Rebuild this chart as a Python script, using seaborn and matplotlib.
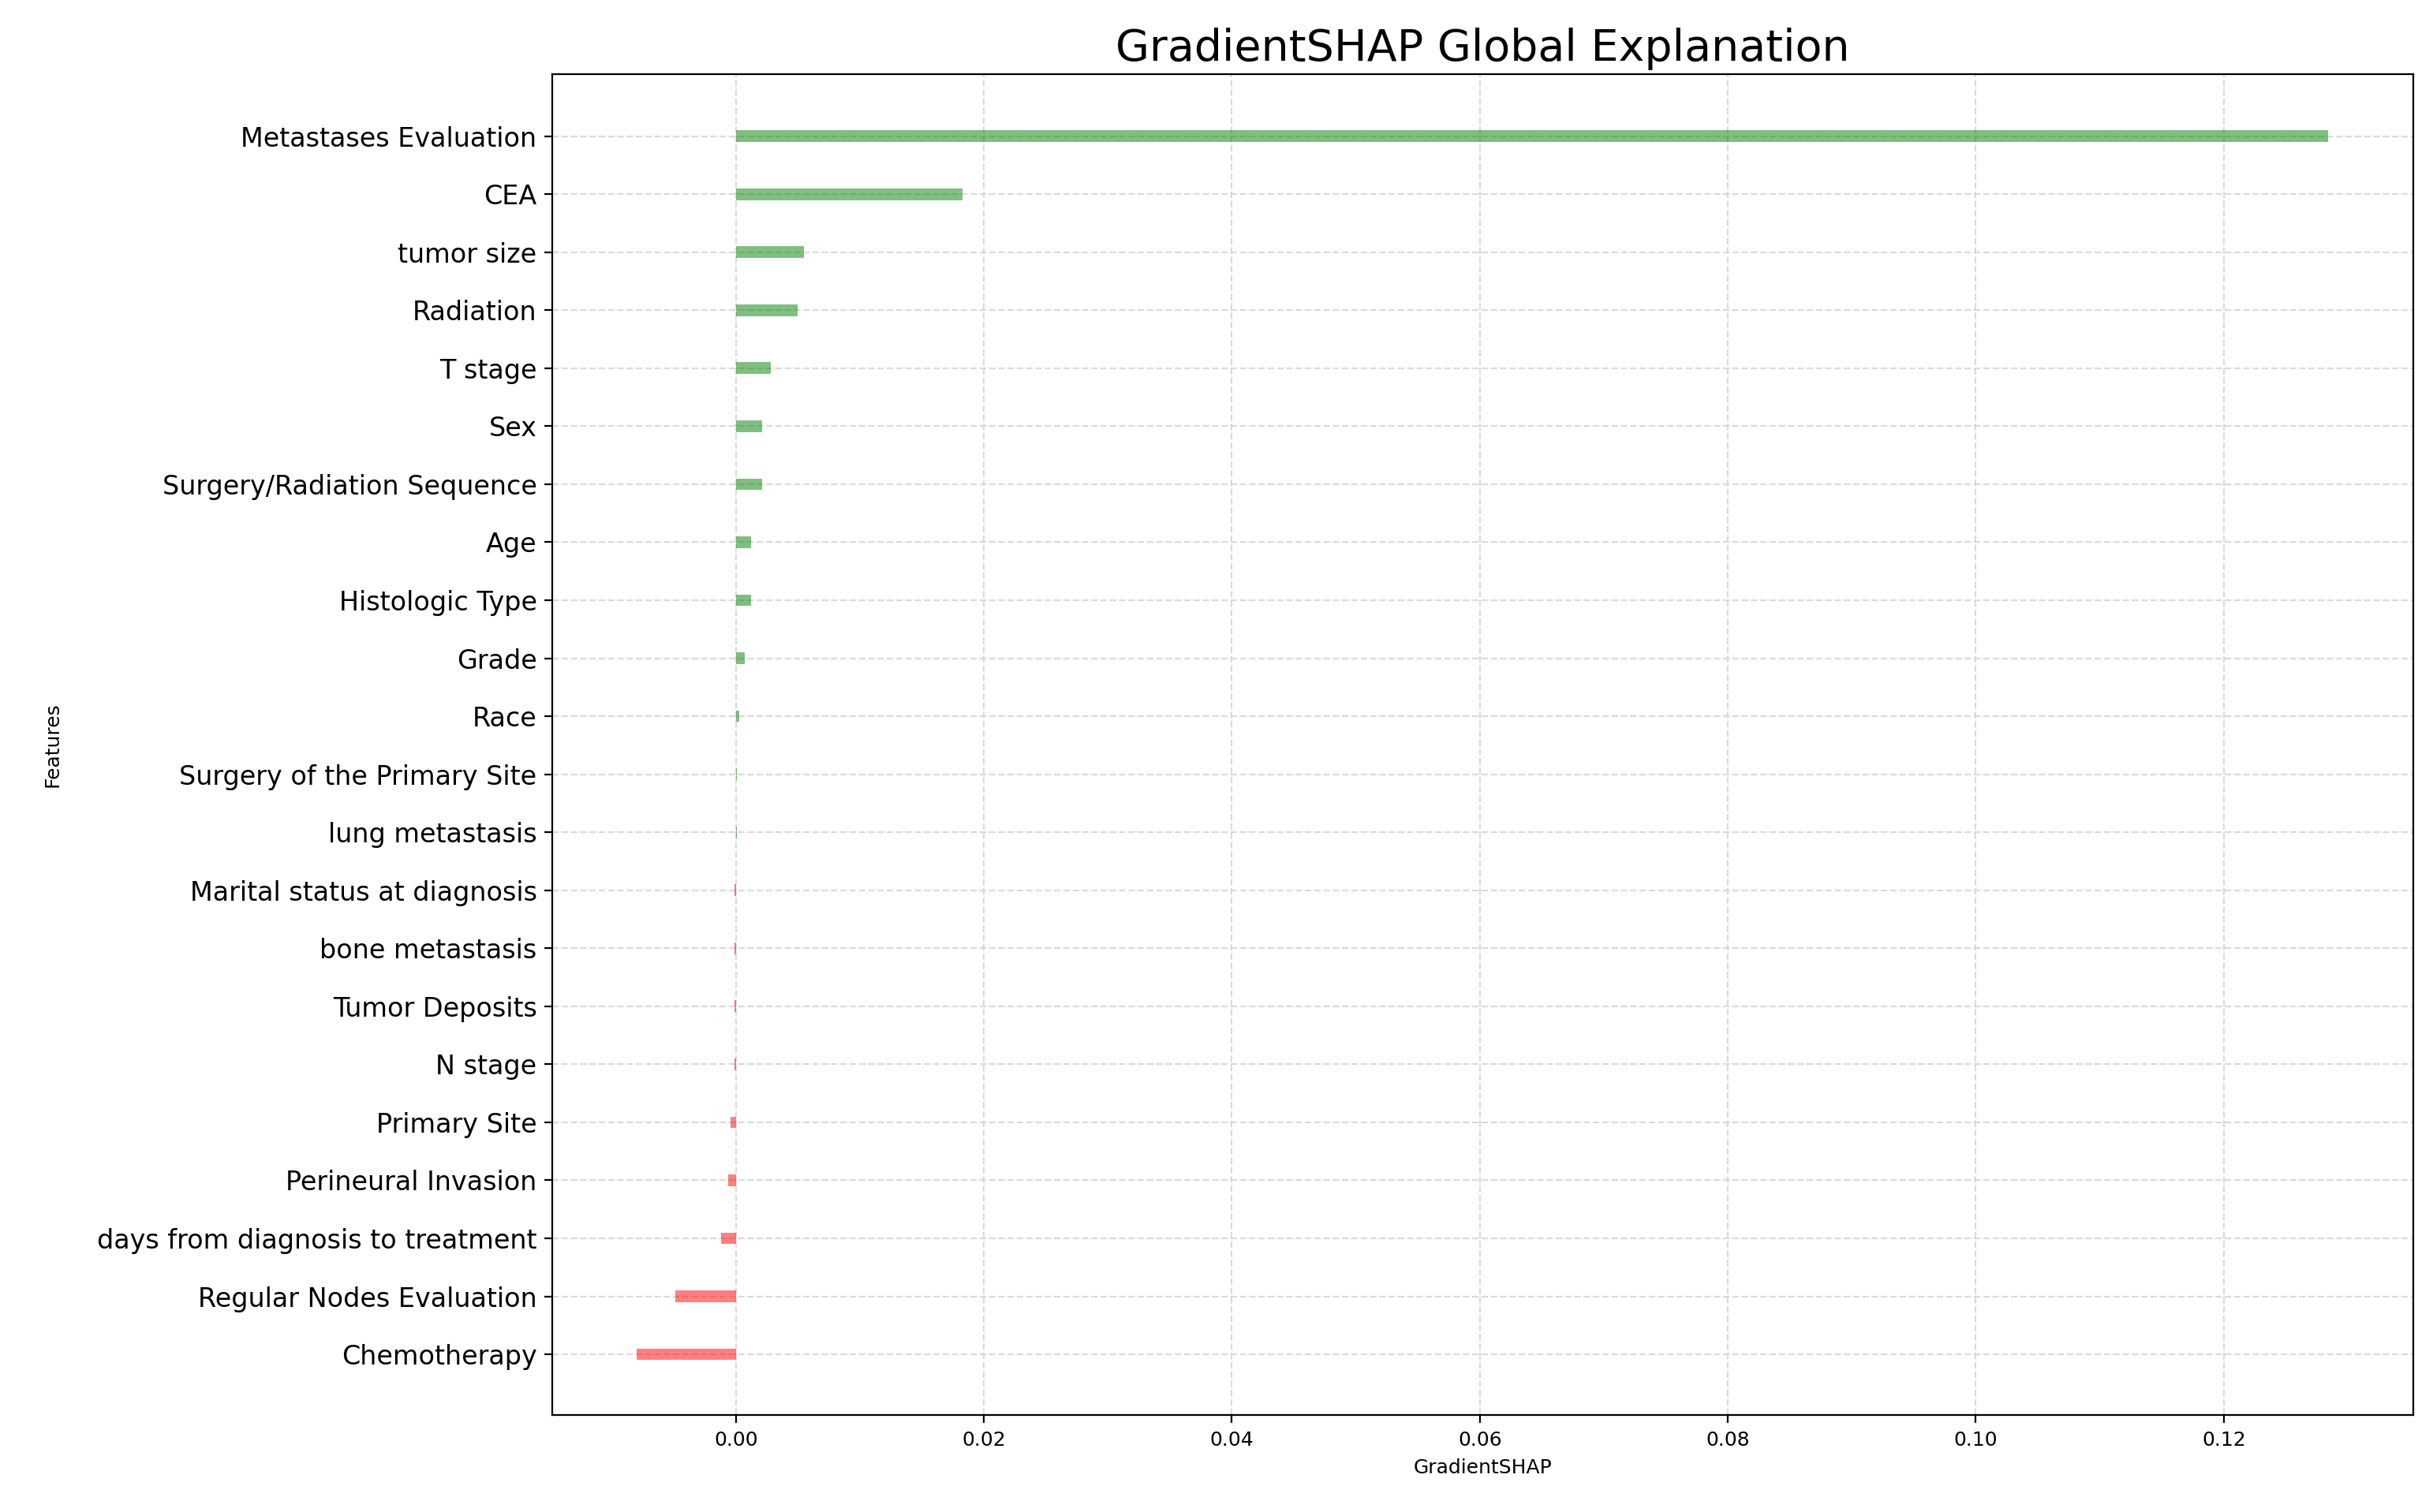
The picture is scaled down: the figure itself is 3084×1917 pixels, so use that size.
import matplotlib
matplotlib.use("Agg")
import matplotlib.pyplot as plt
import pandas as pd
import seaborn as sns

features = ["Metastases Evaluation", "CEA", "tumor size", "Radiation", "T stage", "Sex",
            "Surgery/Radiation Sequence", "Age", "Histologic Type", "Grade", "Race",
            "Surgery of the Primary Site", "lung metastasis", "Marital status at diagnosis",
            "bone metastasis", "Tumor Deposits", "N stage", "Primary Site",
            "Perineural Invasion", "days from diagnosis to treatment",
            "Regular Nodes Evaluation", "Chemotherapy"]
values = [0.1284, 0.0183, 0.0055, 0.0050, 0.0028, 0.0021, 0.0021, 0.0012, 0.0012, 0.0007,
          0.0003, 0.0001, 0.0001, -0.0001, -0.0001, -0.0001, -0.0001, -0.0004, -0.0006,
          -0.0012, -0.0049, -0.0080]

df = pd.DataFrame({"Features": features, "GradientSHAP": values})
df["sign"] = ["pos" if v >= 0 else "neg" for v in values]

fig = plt.figure(figsize=(15.42, 9.585), dpi=200)
ax = fig.add_axes([0.227, 0.064, 0.765, 0.887])
sns.barplot(data=df, y="Features", x="GradientSHAP", hue="sign", order=features,
            palette={"pos": "green", "neg": "red"}, alpha=0.5, width=0.2,
            saturation=1, dodge=False, legend=False, ax=ax)
ax.set_ylim(22.05, -1.07)
ax.set_xlim(-0.0148, 0.1353)
ax.grid(True, linestyle="--", color="lightgray", alpha=0.8)
ax.set_axisbelow(True)
ax.tick_params(axis="y", labelsize=12)
ax.tick_params(axis="x", labelsize=9)
ax.set_xlabel("GradientSHAP", fontsize=9)
ax.set_ylabel("Features", fontsize=9, labelpad=16)
ax.set_title("GradientSHAP Global Explanation", fontsize=20)
fig.savefig("out.png", dpi=200)
